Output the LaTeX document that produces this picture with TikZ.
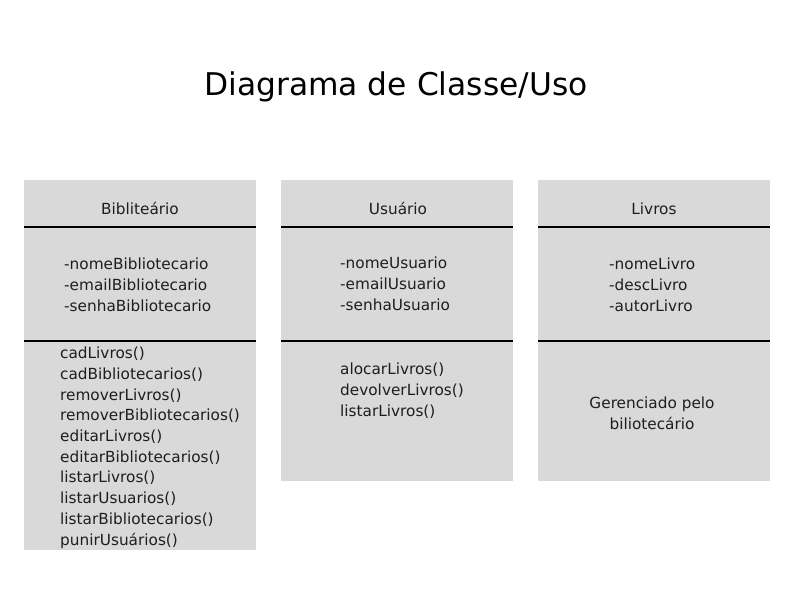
\documentclass[tikz,border=0pt]{standalone}
\usepackage{fontspec}
\setmainfont{DejaVu Sans}
\usetikzlibrary{positioning}
\definecolor{boxgray}{HTML}{D9D9D9}
\definecolor{inkgray}{HTML}{1E1E1E}
\tikzset{%
  classbox/.style = {shape=rectangle, fill=boxgray, draw=none,
    anchor=north west, inner sep=0pt, minimum width=232pt},
  divider/.style = {draw=black, line width=1.2pt},
  classname/.style = {anchor=base, inner sep=0pt, text=inkgray,
    font=\fontsize{15.3}{20.7}\selectfont},
  member/.style = {anchor=base west, align=left, inner sep=0pt, text=inkgray,
    font=\fontsize{15.3}{20.7}\selectfont},
  heading/.style = {anchor=base, inner sep=0pt, text=black,
    font=\fontsize{31.3}{36}\selectfont}
}
\begin{document}
\begin{tikzpicture}[x=1pt,y=-1pt]
  \fill[white] (0,0) rectangle (787,604);
  \node[heading] (title) at (396,96) {Diagrama de Classe/Uso};
  % Bibliotecario
  \node[classbox, minimum height=370pt] (bib) at (24,180) {};
  \draw[divider] (bib.west |- 0,227) -- (bib.east |- 0,227);
  \draw[divider] (bib.west |- 0,341) -- (bib.east |- 0,341);
  \node[classname] (bibname) at (140,214.5) {Bibliteário};
  \node[member] (bibattr) at (64,311) {-nomeBibliotecario\\-emailBibliotecario\\-senhaBibliotecario};
  \node[member] (bibops) at (60,545) {cadLivros()\\cadBibliotecarios()\\removerLivros()\\removerBibliotecarios()\\editarLivros()\\editarBibliotecarios()\\listarLivros()\\listarUsuarios()\\listarBibliotecarios()\\punirUsuários()};
  % Usuario
  \node[classbox, minimum height=301pt] (usr) at (281,180) {};
  \draw[divider] (usr.west |- 0,227) -- (usr.east |- 0,227);
  \draw[divider] (usr.west |- 0,341) -- (usr.east |- 0,341);
  \node[classname] (usrname) at (398,214.5) {Usuário};
  \node[member] (usrattr) at (340,310) {-nomeUsuario\\-emailUsuario\\-senhaUsuario};
  \node[member] (usrops) at (340,416) {alocarLivros()\\devolverLivros()\\listarLivros()};
  % Livros
  \node[classbox, minimum height=301pt] (liv) at (538,180) {};
  \draw[divider] (liv.west |- 0,227) -- (liv.east |- 0,227);
  \draw[divider] (liv.west |- 0,341) -- (liv.east |- 0,341);
  \node[classname] (livname) at (654,214.5) {Livros};
  \node[member] (livattr) at (609,311) {-nomeLivro\\-descLivro\\-autorLivro};
  \node[member, align=center, anchor=base] (livnote) at (652,429) {Gerenciado pelo\\biliotecário};
\end{tikzpicture}
\end{document}
